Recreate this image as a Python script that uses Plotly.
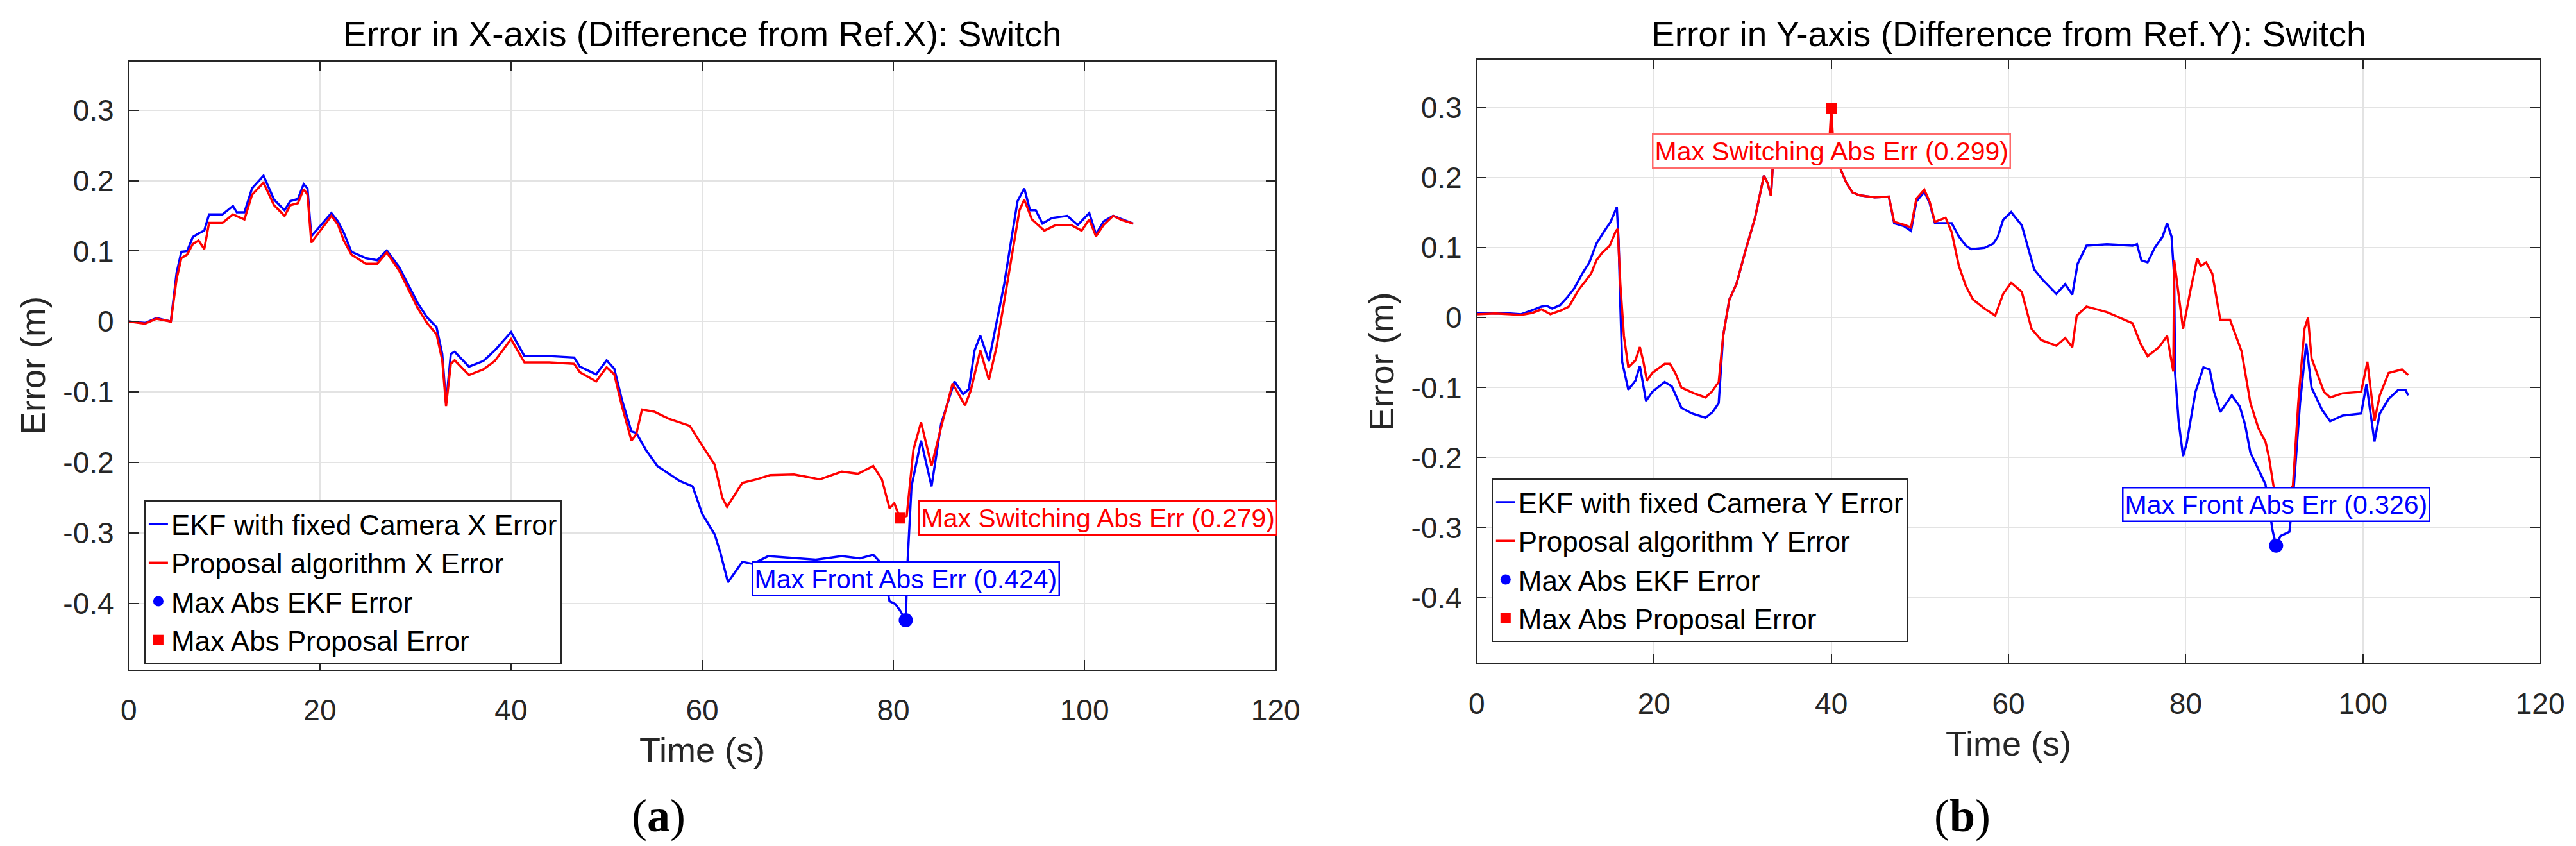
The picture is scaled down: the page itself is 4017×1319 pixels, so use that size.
import numpy as np
import plotly.graph_objects as go

# ---- X-axis error (left panel) ----
t_x_ekf = [
    0, 1.7, 2.9, 4.4, 5.0, 5.5, 6.1, 6.7, 7.3, 7.9,
    8.4, 9.8, 10.9, 11.3, 12.1, 12.9, 14.1, 15.2, 16.3, 16.9,
    17.7, 18.3, 18.7, 19.1, 19.8, 21.2, 21.9, 22.5, 23.3, 24.8,
    26.0, 27.0, 28.3, 30.2, 31.2, 32.2, 32.8, 33.2, 33.7, 34.1,
    35.6, 37.1, 38.3, 40.0, 41.4, 44.0, 46.6, 47.2, 48.9, 50.0,
    50.8, 51.6, 52.6, 53.1, 54.1, 55.3, 57.6, 59.0, 60.0, 61.3,
    61.9, 62.7, 64.2, 65.3, 66.9, 69.6, 71.9, 74.6, 76.5, 77.9,
    78.8, 79.6, 80.2, 80.7, 81.3, 81.5, 81.9, 82.9, 84.0, 85.0,
    86.4, 87.3, 87.9, 88.5, 89.1, 90.0, 90.6, 91.6, 92.4, 93.0,
    93.7, 94.3, 94.9, 95.6, 96.6, 98.2, 99.3, 100.5, 101.2, 102.0,
    103.0, 103.9, 105.1,
]
x_ekf = [
    0.0, -0.002, 0.005, 0.0, 0.069, 0.099, 0.100, 0.120, 0.125, 0.129,
    0.152, 0.152, 0.164, 0.155, 0.155, 0.189, 0.207, 0.173, 0.158, 0.171,
    0.174, 0.195, 0.189, 0.121, 0.132, 0.154, 0.142, 0.126, 0.099, 0.090,
    0.087, 0.101, 0.077, 0.027, 0.006, -0.008, -0.046, -0.116, -0.046, -0.043,
    -0.064, -0.056, -0.041, -0.015, -0.049, -0.049, -0.051, -0.064, -0.075, -0.055,
    -0.067, -0.111, -0.156, -0.158, -0.182, -0.205, -0.226, -0.234, -0.273, -0.302,
    -0.328, -0.370, -0.341, -0.344, -0.333, -0.336, -0.338, -0.333, -0.336, -0.331,
    -0.344, -0.397, -0.401, -0.410, -0.424, -0.338, -0.234, -0.169, -0.234, -0.145,
    -0.085, -0.103, -0.096, -0.041, -0.020, -0.056, -0.015, 0.053, 0.121, 0.171,
    0.189, 0.158, 0.158, 0.139, 0.147, 0.150, 0.137, 0.154, 0.124, 0.142,
    0.150, 0.145, 0.139,
]
t_x_prop = [
    0, 1.7, 2.9, 4.4, 5.0, 5.5, 6.1, 6.7, 7.3, 7.9,
    8.4, 9.8, 10.9, 12.1, 12.9, 14.1, 15.2, 16.3, 16.9, 17.7,
    18.3, 18.7, 19.1, 19.8, 21.2, 21.9, 22.5, 23.3, 24.8, 26.0,
    27.0, 28.3, 30.2, 31.2, 32.2, 32.8, 33.2, 33.7, 34.1, 35.6,
    37.1, 38.3, 40.0, 41.4, 44.0, 46.6, 47.2, 48.9, 50.0, 50.8,
    51.6, 52.6, 53.1, 53.7, 55.0, 56.5, 58.7, 60.0, 61.3, 62.1,
    62.6, 64.2, 65.7, 67.1, 69.6, 72.3, 74.6, 76.3, 77.9, 78.8,
    79.6, 80.1, 80.7, 81.4, 82.1, 82.9, 84.0, 85.0, 86.2, 87.5,
    88.1, 89.1, 90.0, 90.8, 91.6, 92.4, 93.2, 93.7, 94.5, 95.8,
    97.0, 98.6, 99.7, 100.5, 101.2, 102.0, 103.0, 103.9, 105.1,
]
x_prop = [
    0.0, -0.003, 0.004, 0.0, 0.060, 0.090, 0.095, 0.110, 0.115, 0.103,
    0.140, 0.140, 0.152, 0.145, 0.180, 0.197, 0.165, 0.150, 0.165, 0.168,
    0.188, 0.180, 0.112, 0.125, 0.150, 0.137, 0.115, 0.095, 0.082, 0.082,
    0.098, 0.072, 0.020, -0.002, -0.018, -0.055, -0.120, -0.060, -0.055, -0.076,
    -0.068, -0.056, -0.025, -0.058, -0.058, -0.060, -0.072, -0.085, -0.065, -0.075,
    -0.120, -0.169, -0.160, -0.125, -0.128, -0.138, -0.148, -0.176, -0.203, -0.250,
    -0.263, -0.229, -0.224, -0.218, -0.217, -0.224, -0.213, -0.216, -0.205, -0.224,
    -0.265, -0.258, -0.279, -0.276, -0.182, -0.143, -0.205, -0.150, -0.088, -0.119,
    -0.098, -0.041, -0.083, -0.036, 0.030, 0.095, 0.158, 0.173, 0.145, 0.129,
    0.137, 0.137, 0.129, 0.145, 0.121, 0.137, 0.150, 0.144, 0.139,
]

# ---- Y-axis error (right panel) ----
t_y_ekf = [
    0, 2.1, 3.8, 5.0, 6.3, 7.3, 7.9, 8.5, 9.4, 10.2,
    11.0, 11.9, 12.7, 13.5, 14.4, 15.1, 15.8, 16.0, 16.2, 16.4,
    17.1, 17.9, 18.4, 19.1, 19.8, 21.2, 22.0, 23.1, 24.3, 25.8,
    26.6, 27.3, 27.8, 28.5, 29.3, 30.3, 31.4, 32.4, 32.8, 33.2,
    33.4, 35.0, 37.0, 39.0, 40.0, 41.1, 41.7, 42.4, 43.2, 44.9,
    46.5, 47.1, 48.2, 49.0, 49.6, 50.5, 51.1, 51.7, 52.9, 53.6,
    54.4, 55.2, 55.8, 57.3, 58.3, 58.8, 59.4, 60.3, 61.5, 62.1,
    62.9, 63.8, 64.6, 65.4, 66.4, 67.2, 67.8, 68.8, 71.1, 74.0,
    74.5, 75.0, 75.7, 76.5, 77.4, 77.9, 78.4, 78.7, 78.8, 79.2,
    79.7, 80.1, 81.1, 82.0, 82.7, 83.2, 83.9, 85.2, 86.1, 86.7,
    87.3, 88.2, 89.0, 89.8, 90.2, 90.7, 91.7, 92.1, 92.9, 93.6,
    94.2, 95.4, 96.3, 97.7, 99.8, 100.4, 101.3, 101.9, 102.9, 104.0,
    104.8, 105.1,
]
y_ekf = [
    0.007, 0.006, 0.006, 0.005, 0.011, 0.016, 0.017, 0.013, 0.018, 0.029,
    0.042, 0.063, 0.079, 0.106, 0.124, 0.137, 0.158, 0.111, 0.016, -0.063,
    -0.103, -0.090, -0.069, -0.119, -0.106, -0.092, -0.098, -0.129, -0.137, -0.143,
    -0.135, -0.122, -0.026, 0.026, 0.048, 0.095, 0.143, 0.203, 0.193, 0.174,
    0.217, 0.235, 0.245, 0.250, 0.255, 0.211, 0.193, 0.179, 0.175, 0.172,
    0.173, 0.135, 0.131, 0.124, 0.166, 0.180, 0.164, 0.135, 0.135, 0.135,
    0.116, 0.103, 0.098, 0.100, 0.106, 0.116, 0.140, 0.151, 0.132, 0.106,
    0.069, 0.055, 0.045, 0.034, 0.048, 0.033, 0.077, 0.103, 0.105, 0.103,
    0.105, 0.082, 0.079, 0.100, 0.116, 0.135, 0.116, 0.058, -0.079, -0.148,
    -0.198, -0.180, -0.106, -0.071, -0.074, -0.106, -0.135, -0.111, -0.127, -0.153,
    -0.193, -0.216, -0.238, -0.304, -0.326, -0.312, -0.306, -0.259, -0.122, -0.037,
    -0.100, -0.132, -0.148, -0.140, -0.137, -0.095, -0.177, -0.137, -0.116, -0.103,
    -0.103, -0.111,
]
t_y_prop = [
    0, 2.1, 3.8, 5.0, 6.3, 7.3, 8.3, 9.6, 10.4, 11.5,
    12.3, 12.9, 13.5, 14.1, 15.0, 15.7, 15.9, 16.2, 16.6, 17.1,
    17.9, 18.4, 18.8, 19.2, 19.8, 21.2, 21.8, 22.4, 23.1, 24.5,
    25.8, 26.5, 27.3, 27.8, 28.5, 29.3, 30.3, 31.4, 32.4, 32.8,
    33.2, 33.4, 35.0, 37.0, 39.0, 39.8, 40.0, 40.2, 41.1, 41.7,
    42.4, 43.2, 44.9, 46.5, 47.1, 48.2, 49.0, 49.6, 50.5, 51.1,
    51.7, 52.9, 53.6, 54.4, 55.2, 56.0, 57.3, 58.5, 59.4, 60.3,
    61.5, 62.6, 63.7, 65.4, 66.4, 67.2, 67.7, 68.8, 71.1, 74.0,
    74.9, 75.7, 77.0, 77.9, 78.6, 78.7, 79.7, 80.5, 81.3, 81.7,
    82.3, 83.0, 83.9, 85.0, 86.3, 87.3, 88.2, 89.0, 89.4, 89.9,
    90.8, 92.1, 92.7, 93.4, 93.8, 94.2, 95.6, 96.3, 97.7, 99.8,
    100.5, 101.3, 101.9, 102.9, 104.4, 105.1,
]
y_prop = [
    0.005, 0.006, 0.005, 0.004, 0.007, 0.012, 0.005, 0.011, 0.016, 0.040,
    0.053, 0.063, 0.082, 0.092, 0.103, 0.124, 0.127, 0.048, -0.026, -0.071,
    -0.061, -0.042, -0.063, -0.090, -0.079, -0.066, -0.066, -0.079, -0.100, -0.108,
    -0.114, -0.106, -0.092, -0.026, 0.026, 0.048, 0.095, 0.143, 0.203, 0.193,
    0.174, 0.217, 0.235, 0.245, 0.250, 0.255, 0.299, 0.255, 0.211, 0.193,
    0.179, 0.175, 0.172, 0.173, 0.137, 0.133, 0.129, 0.170, 0.183, 0.166,
    0.137, 0.143, 0.122, 0.074, 0.045, 0.026, 0.013, 0.003, 0.034, 0.050,
    0.037, -0.016, -0.032, -0.040, -0.029, -0.042, 0.003, 0.016, 0.008, -0.008,
    -0.037, -0.055, -0.042, -0.026, -0.077, 0.082, -0.016, 0.037, 0.085, 0.074,
    0.079, 0.063, -0.003, -0.003, -0.048, -0.122, -0.158, -0.177, -0.200, -0.240,
    -0.270, -0.240, -0.122, -0.016, 0.000, -0.058, -0.106, -0.114, -0.108, -0.106,
    -0.063, -0.148, -0.111, -0.079, -0.074, -0.082,
]

x_ticks = [0, 20, 40, 60, 80, 100, 120]
y_ticks = [-0.4, -0.3, -0.2, -0.1, 0, 0.1, 0.2, 0.3]
y_tick_labels = ["-0.4", "-0.3", "-0.2", "-0.1", "0", "0.1", "0.2", "0.3"]
y_range = [-0.494, 0.369]

BLUE = "#0000ff"
RED = "#ff0000"
AX = "#262626"
FONT = "Liberation Sans, Arial, sans-serif"


def max_abs(t, v):
    i = int(np.argmax(np.abs(v)))
    return t[i], v[i]


fig = go.Figure()
annotations = []

panels = [
    ("x", "y", "legend", "X", t_x_ekf, x_ekf, t_x_prop, x_prop),
    ("x2", "y2", "legend2", "Y", t_y_ekf, y_ekf, t_y_prop, y_prop),
]
for xa, ya, leg, axis_name, t_ekf, v_ekf, t_prop, v_prop in panels:
    fig.add_trace(go.Scatter(
        x=t_ekf, y=v_ekf, mode="lines", xaxis=xa, yaxis=ya, legend=leg,
        name=f"EKF with fixed Camera {axis_name} Error",
        line=dict(color=BLUE, width=3.5),
    ))
    fig.add_trace(go.Scatter(
        x=t_prop, y=v_prop, mode="lines", xaxis=xa, yaxis=ya, legend=leg,
        name=f"Proposal algorithm {axis_name} Error",
        line=dict(color=RED, width=3.5),
    ))
    te, ve = max_abs(t_ekf, v_ekf)
    tp, vp = max_abs(t_prop, v_prop)
    fig.add_trace(go.Scatter(
        x=[te], y=[ve], mode="markers", xaxis=xa, yaxis=ya, legend=leg,
        name="Max Abs EKF Error",
        marker=dict(color=BLUE, size=22, symbol="circle"),
    ))
    fig.add_trace(go.Scatter(
        x=[tp], y=[vp], mode="markers", xaxis=xa, yaxis=ya, legend=leg,
        name="Max Abs Proposal Error",
        marker=dict(color=RED, size=17, symbol="square"),
    ))

    box = dict(xref=xa, yref=ya, showarrow=False, bgcolor="white",
               borderwidth=2.5, borderpad=2, font=dict(family=FONT, size=41))
    annotations.append(dict(
        box, x=te, y=ve + 0.059, xanchor="center", yanchor="middle",
        text=f"Max Front Abs Err ({abs(ve):.3f})",
        bordercolor=BLUE, font=dict(family=FONT, size=41, color=BLUE),
    ))
    if axis_name == "X":
        annotations.append(dict(
            box, x=tp + 1.9, y=vp, xanchor="left", yanchor="middle",
            text=f"Max Switching Abs Err ({abs(vp):.3f})",
            bordercolor=RED, font=dict(family=FONT, size=41, color=RED),
        ))
    else:
        annotations.append(dict(
            box, x=tp, y=vp - 0.061, xanchor="center", yanchor="middle",
            text=f"Max Switching Abs Err ({abs(vp):.3f})",
            bordercolor="#ff6a6a", font=dict(family=FONT, size=41, color=RED),
        ))

# panel captions
for xpos, letter in [(0.2537, "a"), (0.7598, "b")]:
    annotations.append(dict(
        xref="paper", yref="paper", x=xpos, y=0.042, showarrow=False,
        text=f"(<b>{letter}</b>)", xanchor="center", yanchor="middle",
        font=dict(family="Liberation Serif, Times New Roman, serif", size=72, color="black"),
    ))

axis_common = dict(
    showline=True, linecolor=AX, linewidth=2, mirror="ticks",
    ticks="inside", ticklen=15, tickwidth=2, tickcolor=AX,
    showgrid=True, gridcolor="#e3e3e3", gridwidth=2, zeroline=False,
    tickfont=dict(family=FONT, size=46, color=AX), automargin=False,
)
xaxis_common = dict(axis_common, range=[0, 120], tickvals=x_ticks,
                    ticklabelstandoff=22,
                    title=dict(text="Time (s)", standoff=18,
                               font=dict(family=FONT, size=54, color=AX)))
yaxis_common = dict(axis_common, range=y_range, tickvals=y_ticks,
                    ticktext=y_tick_labels, ticklabelstandoff=12,
                    title=dict(text="Error (m)", standoff=10,
                               font=dict(family=FONT, size=54, color=AX)))

legend_common = dict(
    bgcolor="white", bordercolor=AX, borderwidth=2,
    font=dict(family=FONT, size=44, color="black"),
    xanchor="left", yanchor="top", tracegroupgap=0,
)

fig.update_layout(
    width=4017, height=1319,
    margin=dict(l=0, r=0, t=0, b=0),
    paper_bgcolor="white", plot_bgcolor="white",
    font=dict(family=FONT),
    showlegend=True,
    xaxis=dict(xaxis_common, domain=[0.0480, 0.4932], anchor="y"),
    yaxis=dict(yaxis_common, domain=[0.2146, 0.9333], anchor="x"),
    xaxis2=dict(xaxis_common, domain=[0.5713, 0.9841], anchor="y2"),
    yaxis2=dict(yaxis_common, domain=[0.2221, 0.9356], anchor="x2"),
    legend=dict(legend_common, x=0.054, y=0.4147),
    legend2=dict(legend_common, x=0.577, y=0.4405),
    annotations=annotations + [
        dict(xref="paper", yref="paper", x=0.2706, y=0.966, showarrow=False,
             text="Error in X-axis (Difference from Ref.X): Switch",
             xanchor="center", yanchor="middle",
             font=dict(family=FONT, size=55, color="black")),
        dict(xref="paper", yref="paper", x=0.7777, y=0.966, showarrow=False,
             text="Error in Y-axis (Difference from Ref.Y): Switch",
             xanchor="center", yanchor="middle",
             font=dict(family=FONT, size=55, color="black")),
    ],
)

fig.write_html("out.html")
